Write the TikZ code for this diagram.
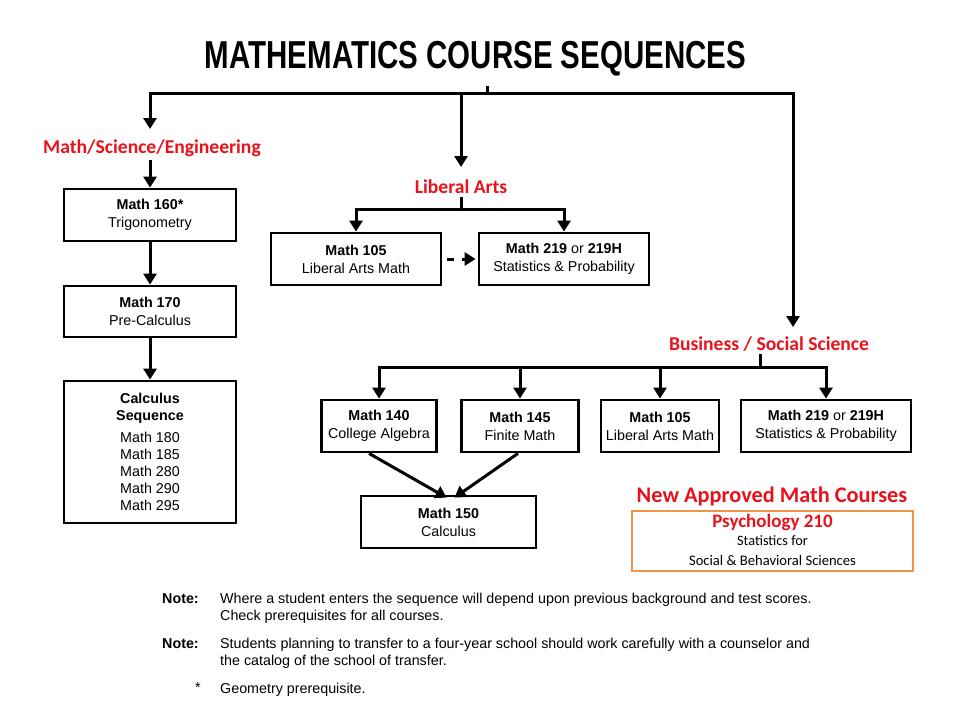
\documentclass[tikz,border=0pt]{standalone}
\usepackage{fontspec}
\setmainfont{Liberation Sans}
\newfontfamily\calfont{Carlito}
\usetikzlibrary{arrows.meta}
\definecolor{labred}{RGB}{232,18,28}
\definecolor{orangebox}{RGB}{240,150,74}
\begin{document}
\begin{tikzpicture}[x=1pt,y=-1pt,
  ln/.style={line width=3pt},
  arr/.style={line width=3pt,-{Triangle[width=13pt,length=11pt]}},
  box/.style={draw,line width=2.8pt,inner sep=0pt,align=center,
    font=\fontsize{14.3}{18}\selectfont},
  lab/.style={text=labred,font=\calfont\bfseries\fontsize{19.6}{21}\selectfont,inner sep=0pt},
  notehead/.style={anchor=base west,inner sep=0pt,font=\bfseries\fontsize{14.3}{17}\selectfont},
  notetext/.style={anchor=base west,inner sep=0pt,align=left,font=\fontsize{14.3}{17}\selectfont}
]
\useasboundingbox (0,0) rectangle (960,720);

% title
\node[inner sep=0pt,anchor=base] (title) at (475.5,68)
  {\scalebox{0.756}[1]{\bfseries\fontsize{39}{40}\selectfont MATHEMATICS COURSE SEQUENCES}};

% top distribution
\coordinate (t0) at (487,86);
\coordinate (t1) at (487,93);
\coordinate (jl) at (150,93);
\coordinate (jm) at (461,93);
\coordinate (jr) at (793,93);
\draw[ln] (t0) -- (t1);
\draw[ln] ([xshift=-1.5pt]jl) -- ([xshift=1.5pt]jr);

% Math/Science/Engineering
\node[lab] (mse) at (152,148) {Math/Science/Engineering};
\coordinate (mseIn) at (150,129);
\coordinate (mseOut) at (150,160);
\draw[arr] (jl) -- (mseIn);

\node[box,minimum width=172pt,minimum height=52pt] (m160) at (150,215)
  {\textbf{Math 160*}\\Trigonometry};
\node[box,minimum width=172pt,minimum height=51pt] (m170) at (150,311.5)
  {\textbf{Math 170}\\Pre-Calculus};
\node[box,minimum width=172pt,minimum height=142pt,font=\fontsize{14.3}{17}\selectfont] (calc) at (150,452)
  {\textbf{Calculus}\\\textbf{Sequence}\\[5pt]
   Math 180\\Math 185\\Math 280\\Math 290\\Math 295};
\draw[arr] (mseOut) -- (m160);
\draw[arr] (m160) -- (m170);
\draw[arr] (m170) -- (calc);

% Liberal Arts
\coordinate (jmIn) at (461,167);
\draw[arr] (jm) -- (jmIn);
\node[lab] (la) at (461,187) {Liberal Arts};
\coordinate (laS0) at (461,197);
\coordinate (laS1) at (461,209);
\coordinate (laL) at (356,209);
\coordinate (laR) at (564,209);
\draw[ln] (laS0) -- (laS1);
\draw[ln] ([xshift=-1.5pt]laL) -- ([xshift=1.5pt]laR);
\node[box,minimum width=170pt,minimum height=52pt] (la105) at (356,259)
  {\textbf{Math 105}\\Liberal Arts Math};
\node[box,minimum width=170pt,minimum height=52pt] (la219) at (564,259)
  {\textbf{Math 219} or \textbf{219H}\\Statistics \& Probability};
\draw[arr] (laL) -- (la105);
\draw[arr] (laR) -- (la219);
\draw[arr,dash pattern=on 7pt off 8pt,shorten <=5pt,shorten >=2pt] (la105) -- (la219);

% Business / Social Science
\coordinate (jrIn) at (793,327);
\draw[arr] (jr) -- (jrIn);
\node[lab] (bss) at (769,344) {Business / Social Science};
\coordinate (bS0) at (760,354);
\coordinate (bS1) at (760,367);
\coordinate (b1) at (379,367);
\coordinate (b2) at (520,367);
\coordinate (b3) at (660,367);
\coordinate (b4) at (826,367);
\draw[ln] (bS0) -- (bS1);
\draw[ln] ([xshift=-1.5pt]b1) -- ([xshift=1.5pt]b4);
\node[box,minimum width=115pt,minimum height=52pt] (b140) at (379,426)
  {\textbf{Math 140}\\College Algebra};
\node[box,minimum width=117pt,minimum height=52pt] (b145) at (520,426)
  {\textbf{Math 145}\\Finite Math};
\node[box,minimum width=118pt,minimum height=52pt] (b105) at (660,426)
  {\textbf{Math 105}\\Liberal Arts Math};
\node[box,minimum width=170pt,minimum height=52pt] (b219) at (826,426)
  {\textbf{Math 219} or \textbf{219H}\\Statistics \& Probability};
\draw[arr] (b1) -- (b140);
\draw[arr] (b2) -- (b145);
\draw[arr] (b3) -- (b105);
\draw[arr] (b4) -- (b219);

\node[box,minimum width=175pt,minimum height=52pt] (m150) at (448.5,522)
  {\textbf{Math 150}\\Calculus};
\draw[arr] ([xshift=-10pt]b140.south) -- ([xshift=-2pt,yshift=-3pt]m150.north);
\draw[arr] ([xshift=-2pt]b145.south) -- ([xshift=6pt,yshift=-3pt]m150.north);

% New approved
\node[text=labred,font=\calfont\bfseries\fontsize{22.3}{24}\selectfont,inner sep=0pt] (nam) at (772,496)
  {New Approved Math Courses};
\node[draw=orangebox,line width=2pt,minimum width=281pt,minimum height=60pt,inner sep=0pt] (psy) at (772.5,541) {};
\node[text=labred,font=\calfont\bfseries\fontsize{19}{20}\selectfont,inner sep=0pt] (psyT) at (772.5,522) {Psychology 210};
\node[font=\calfont\fontsize{14.3}{15}\selectfont,inner sep=0pt] (psy1) at (772.5,541) {Statistics for};
\node[font=\calfont\fontsize{14.6}{15}\selectfont,inner sep=0pt] (psy2) at (772.5,560) {Social \& Behavioral Sciences};

% notes
\node[notehead] (n1h) at (162,603) {Note:};
\node[notetext] (n1a) at (220,603) {Where a student enters the sequence will depend upon previous background and test scores.};
\node[notetext] (n1b) at (220,620) {Check prerequisites for all courses.};
\node[notehead] (n2h) at (162,648) {Note:};
\node[notetext] (n2a) at (220,648) {Students planning to transfer to a four-year school should work carefully with a counselor and};
\node[notetext] (n2b) at (220,665) {the catalog of the school of transfer.};
\node[notetext] (ast) at (195,692) {*};
\node[notetext] (n3) at (220,693) {Geometry prerequisite.};
\end{tikzpicture}
\end{document}
